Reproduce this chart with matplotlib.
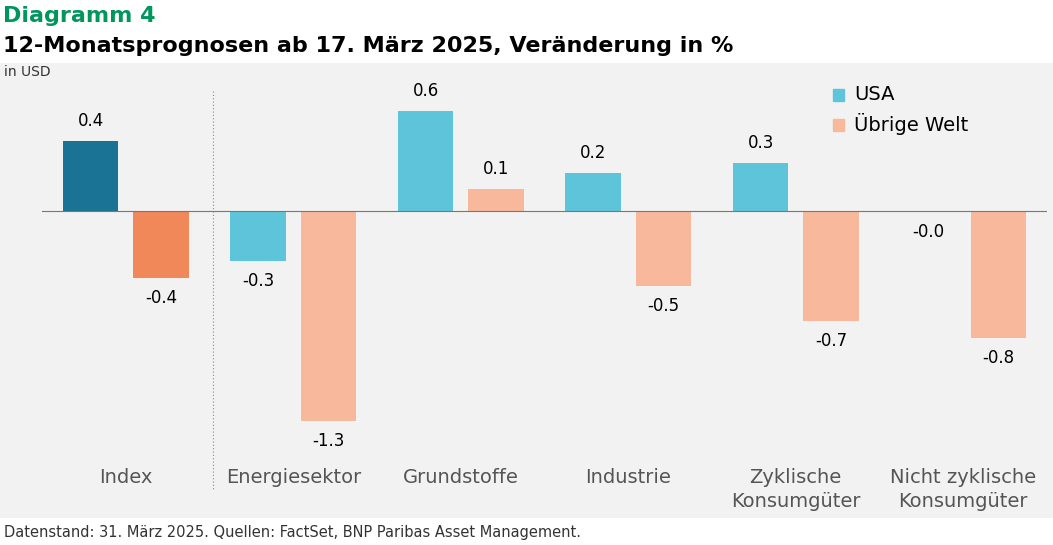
import numpy as np
import matplotlib.pyplot as plt
from matplotlib.patches import Rectangle

categories = ["Index", "Energiesektor", "Grundstoffe", "Industrie", "Zyklische\nKonsumgüter", "Nicht zyklische\nKonsumgüter"]
usa = [0.42, -0.30, 0.60, 0.23, 0.29, -0.005]
rest = [-0.40, -1.26, 0.13, -0.45, -0.66, -0.76]
usa_lbl = ["0.4", "-0.3", "0.6", "0.2", "0.3", "-0.0"]
rest_lbl = ["-0.4", "-1.3", "0.1", "-0.5", "-0.7", "-0.8"]

W, H = 1053, 545
fig = plt.figure(figsize=(W/100, H/100), dpi=100)
fig.patches.append(Rectangle((0, (H-518)/H), 1, (518-63)/H, transform=fig.transFigure,
                             facecolor="#f2f2f2", edgecolor="none", zorder=-10))

ax = fig.add_axes([42/W, (H-518)/H, (1047-42)/W, (518-63)/H])
ax.set_facecolor("none")
ax.set_xlim(-0.5, 5.5)
ax.set_ylim(-1.838, 0.886)
for s in ax.spines.values():
    s.set_visible(False)
ax.set_xticks([]); ax.set_yticks([])
ax.axhline(0, color="#777777", lw=0.8)

x = np.arange(len(categories))
off, w = 0.21, 0.33
c_usa = ["#1a7394"] + ["#5ec4da"] * 5
c_rest = ["#f0885a"] + ["#f7b89c"] * 5
ax.bar(x - off, usa, w, color=c_usa)
ax.bar(x + off, rest, w, color=c_rest)
pad = 0.12
for xi, v, l in zip(x - off, usa, usa_lbl):
    ax.text(xi, v + pad if v >= 0 else v - pad, l, ha="center", va="center", fontsize=12)
for xi, v, l in zip(x + off, rest, rest_lbl):
    ax.text(xi, v + pad if v >= 0 else v - pad, l, ha="center", va="center", fontsize=12)
for xi, c in zip(x, categories):
    ax.text(xi, -1.54, c, ha="center", va="top", fontsize=14, color="#555555", linespacing=1.3)

ax.plot([0.52, 0.52], [0.72, -1.67], color="#888888", lw=0.8, ls=(0, (1, 2)))

# legend
ax.add_patch(Rectangle((4.22, 0.66), 0.07, 0.07, color="#5ec4da"))
ax.text(4.35, 0.70, "USA", va="center", fontsize=14)
ax.add_patch(Rectangle((4.22, 0.48), 0.07, 0.07, color="#f7b89c"))
ax.text(4.35, 0.52, "Übrige Welt", va="center", fontsize=14)

fig.text(3/W, 1 - 16/H, "Diagramm 4", color="#00965e", fontsize=16, fontweight="bold", va="center")
fig.text(3/W, 1 - 46/H, "12-Monatsprognosen ab 17. März 2025, Veränderung in %", fontsize=16,
         fontweight="bold", va="center")
fig.text(4/W, 1 - 72/H, "in USD", fontsize=10, color="#333333", va="center")
fig.text(4/W, 1 - 532/H, "Datenstand: 31. März 2025. Quellen: FactSet, BNP Paribas Asset Management.",
         fontsize=10.5, color="#333333", va="center")

fig.savefig("out.png", dpi=100)
